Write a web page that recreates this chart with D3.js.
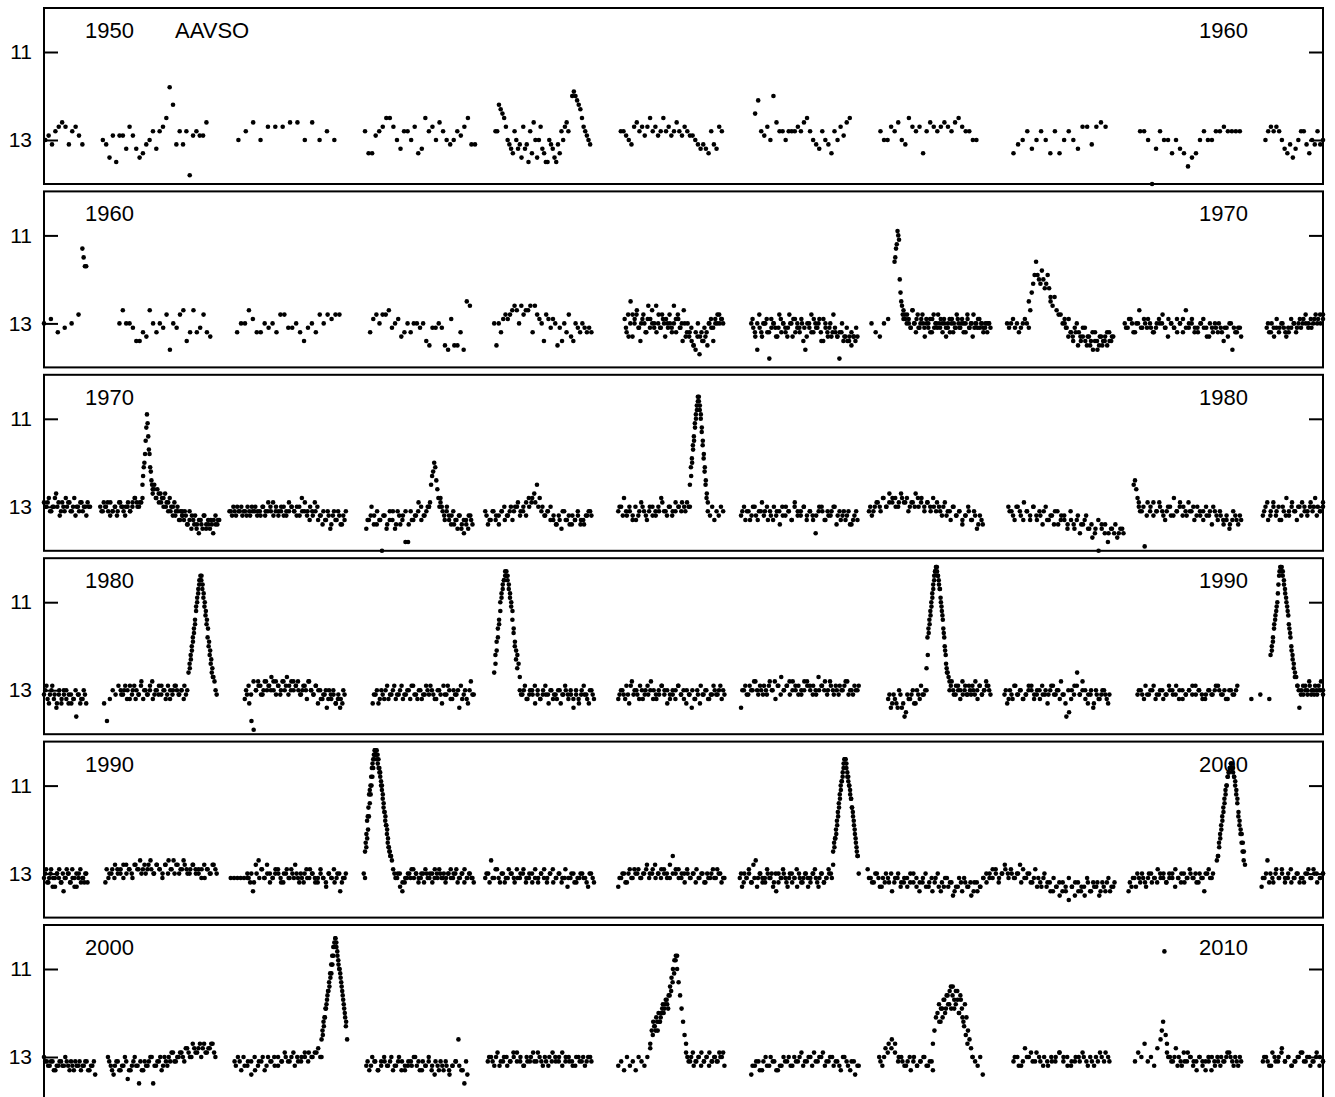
<!DOCTYPE html>
<html>
<head>
<meta charset="utf-8">
<script src="https://cdn.jsdelivr.net/npm/d3@7"></script>
<style>
  body { margin: 0; background: #fff; }
  svg { display: block; font-family: "Liberation Sans", Arial, Helvetica, sans-serif; }
</style>
</head>
<body>
<svg id="chart" width="1335" height="1097"></svg>
<script>
// magnitudes in tenths (130 = 13.0 mag); each run spreads its estimates evenly from `from` to `to` (decimal year)
// dense seasons are read in two passes, so some windows appear twice
const obs1950 = [
  { from: 1950.01, to: 1950.30, mag: [130,129,131,128,127,126,127,131,128,127,129,131] },
  { from: 1950.46, to: 1951.27, mag: [130,131,134,129,135,129,129,132,127,129,132,134,133,131,130,128,132,128,127,125,118,122,131,128,131,128,138,129,128,129,129,126] },
  { from: 1951.52, to: 1952.27, mag: [130,128,126,130,127,127,127,126,126,130,126,130,128,130] },
  { from: 1952.51, to: 1953.37, mag: [128,133,133,129,128,127,125,125,127,130,132,128,128,130,127,133,132,125,128,127,130,126,128,130,131,130,128,129,127,125,131,131] },
  { from: 1953.53, to: 1954.10, mag: [128,128,122,123,124,125,127,130,131,132,133,128,130,132,131,134,127,132,131,135,128,133,126,130,134,130,127,132,133,135,135,130,131,132,134,135,131,133,128,130,127,126,128] },
  { from: 1954.13, to: 1954.27, mag: [120,119,120,121,122,123,125,127,128,129,130,131] },
  { from: 1954.51, to: 1955.30, mag: [128,128,129,130,131,127,126,128,127,129,127,125,128,127,129,128,125,128,127,129,128,126,128,129,127,128,129,129,130,131,132,131,132,133,128,131,132,127,128] },
  { from: 1955.56, to: 1956.30, mag: [124,121,128,129,127,130,120,126,128,128,130,128,128,128,127,128,126,125,128,130,131,132,128,130,131,133,128,130,127,129,126,125] },
  { from: 1956.54, to: 1957.29, mag: [128,130,130,127,128,126,130,131,125,127,128,127,133,128,126,127,128,127,126,127,128,126,125,127,128,128,130,130] },
  { from: 1957.58, to: 1958.30, mag: [133,131,130,128,132,130,128,130,133,128,133,130,128,130,132,127,127,131,127,126,127] },
  { from: 1958.57, to: 1959.35, mag: [128,128,130,140,132,128,130,130,133,130,132,133,136,134,133,130,128,130,130,128,128,127,128,128,128,128] },
  { from: 1959.55, to: 1960.00, mag: [130,128,127,128,127,128,130,132,133,131,134,132,130,128,128,131,133,130,131,128,131,130] }
];

const obs1960 = [
  { from: 1960.00, to: 1960.27, mag: [130,129,132,131,130,128] },
  { from: 1960.30, to: 1960.33, mag: [113,115,117,117] },
  { from: 1960.59, to: 1961.30, mag: [130,127,130,130,131,134,134,132,133,127,130,132,130,131,128,136,130,131,128,127,134,132,127,132,131,128,132,133] },
  { from: 1961.51, to: 1962.31, mag: [132,130,130,127,129,132,132,130,131,130,132,128,128,131,131,130,132,134,131,130,132,128,130,128,129,128,128] },
  { from: 1962.55, to: 1963.33, mag: [132,129,128,130,128,128,127,131,130,129,133,132,130,132,130,130,131,130,134,135,131,131,130,131,135,136,129,135,135,132,136,125,126] },
  { from: 1963.52, to: 1964.28, mag: [130,135,130,132,129,128,129,128,127,126,127,130,126,128,127,127,126,132,126,128,129,130,134,128,129,131,129,130,135,131,134,130,132,128,133,134,130,131,132,130,131,132,131,132] },
  { from: 1964.54, to: 1965.31, mag: [129,132,133,125,128,130,128,131,134,129,130,132,126,129,130,131,126,130,131,128,130,129,131,130,132,126,129,128,131,130,127,133,130,132,134,135,136,133,137,132,134,133,135,130,131,134,129,130,128,129,130] },
  { from: 1964.55, to: 1965.30, mag: [131,128,130,133,129,127,131,130,128,132,129,131,127,130,132,128,131,129,133,130,128,131,130,132,129,131,134,130,132,133,131,135,132,130,133,134,131,132,130,129,131,130,128,130,129] },
  { from: 1965.53, to: 1966.36, mag: [130,131,133,136,128,132,130,130,132,138,129,130,131,133,128,132,130,131,133,128,130,129,132,130,131,129,134,136,130,131,128,132,130,131,129,134,129,130,132,131,133,128,132,133,138,132,134,133,134,133,135,133,134,133] },
  { from: 1965.54, to: 1966.35, mag: [129,132,130,131,133,130,129,132,131,130,133,131,129,130,132,131,130,133,129,131,132,130,131,133,130,132,129,131,130,132,134,131,133,130,132,131,133,132,130,133,131,134,132,133,131] },
  { from: 1966.47, to: 1966.60, mag: [130,132,133,130,129] },
  { from: 1966.65, to: 1966.72, mag: [116,115,113,112,109,110,111,120,123,125,126,128,129] },
  { from: 1966.72, to: 1967.40, mag: [127,129,128,130,131,127,130,132,128,131,129,130,133,130,131,129,132,128,130,131,130,129,132,130,133,131,129,130,132,131,128,130,131,129,130,132,128,131,130,133,131,130,129,131,130,132,131,130,130,131] },
  { from: 1966.73, to: 1967.39, mag: [128,130,129,131,127,130,129,131,130,128,131,129,130,132,129,131,130,128,131,130,129,131,130,132,129,130,131,129,131,130,132,130,129,131,130,128,130,131,129,130,131,130,132,130] },
  { from: 1967.53, to: 1967.70, mag: [130,131,130,129,131,130,132,131,130,129,130,131] },
  { from: 1967.70, to: 1967.87, mag: [125,127,123,121,119,116,119,120,121,118,120,122,121,119,122,124] },
  { from: 1967.87, to: 1967.98, mag: [125,126,124,127,128,128,130,129] },
  { from: 1967.98, to: 1968.36, mag: [130,131,129,132,133,131,130,132,134,133,131,135,133,134,136,132,134,135,133,134,133,135,132,134,133] },
  { from: 1967.99, to: 1968.35, mag: [131,133,132,134,132,135,133,131,134,133,135,132,134,136,133,135,134,132,134,133] },
  { from: 1968.45, to: 1969.36, mag: [130,131,129,132,130,127,131,130,129,131,132,130,130,128,131,129,130,131,132,130,129,127,131,130,132,131,130,129,131,133,131,130,132,131,134,131,130,136,132,131,133] },
  { from: 1968.46, to: 1969.35, mag: [131,129,130,132,130,131,129,131,130,132,131,129,130,131,133,130,131,129,130,132,131,130,129,131,132,130,131,133,130,132,131,130,132,131,133,130,131,132,131] },
  { from: 1969.56, to: 1970.00, mag: [131,132,130,133,131,132,130,131,133,132,131,130,132,130,131,129,130,131,129,130,128,129,130,128] },
  { from: 1969.57, to: 1970.00, mag: [130,132,131,129,131,130,132,131,129,130,131,129,130,128,130,131,129,130,128,129] }
];

const obs1970 = [
  { from: 1970.00, to: 1970.36, mag: [129,130,128,131,130,127,129,131,130,128,129,131,130,132,130,129,131,130,129,130] },
  { from: 1970.01, to: 1970.35, mag: [130,129,131,130,128,130,132,129,131,130,129,131,128,130,131,129,130,132,130] },
  { from: 1970.44, to: 1970.77, mag: [130,131,130,129,132,131,130,131,129,130,132,130,131,129,128,130,129,128] },
  { from: 1970.45, to: 1970.76, mag: [131,129,130,131,129,131,130,132,129,130,131,130,129,131,130,128,129,130,129] },
  { from: 1970.77, to: 1970.85, mag: [125,123,121,120,118,115,112,109,111,114,117,118,121,122,124,125,126] },
  { from: 1970.85, to: 1971.08, mag: [127,125,128,126,129,127,128,130,127,129,131,128,130,132,129,131,130,133,131,132] },
  { from: 1971.08, to: 1971.37, mag: [131,133,132,134,131,135,133,132,134,136,133,135,132,134,133,135,134,133,132,134,133] },
  { from: 1970.86, to: 1971.36, mag: [126,128,127,129,128,130,129,131,130,132,131,133,132,131,134,133,132,134,135,133,134,132,135,134,133,136,134,133] },
  { from: 1971.45, to: 1972.36, mag: [131,132,131,130,131,132,131,130,132,131,130,131,132,130,131,129,131,132,130,131,130,132,131,129,130,131,132,130,128,131,132,133,131,129,130,132,134,133,131,135,132,133,131,134,132,131] },
  { from: 1971.46, to: 1972.35, mag: [131,130,132,131,130,131,132,131,130,131,132,131,130,132,131,130,129,131,132,131,130,132,131,130,131,130,132,131,129,131,130,132,131,133,132,131,133,132,134,131,133,132,134,133] },
  { from: 1972.52, to: 1973.01, mag: [135,133,130,132,134,133,140,132,134,131,133,135,131,134,132,138,138,131,133,132,129,130,132,131,130] },
  { from: 1972.53, to: 1973.00, mag: [133,132,134,131,133,132,135,133,131,134,132,133,131,134,133,132,131,133,132,130] },
  { from: 1973.01, to: 1973.10, mag: [130,129,125,123,122,120,121,124,126,128,130,129] },
  { from: 1973.10, to: 1973.35, mag: [128,131,133,130,132,134,131,133,135,132,134,136,133,135,132,134] },
  { from: 1973.11, to: 1973.34, mag: [130,132,131,133,132,134,133,132,135,133,134,132,133] },
  { from: 1973.45, to: 1974.28, mag: [131,134,133,131,132,134,131,130,132,131,133,130,129,131,130,132,128,129,127,125,128,130,132,131,130,133,134,132,135,131,133,134,132,133,131,134,133,132,131,132] },
  { from: 1973.46, to: 1974.27, mag: [132,133,131,133,132,131,133,132,130,131,130,132,131,129,130,128,129,130,131,132,131,133,132,134,133,131,133,132,134,133,132,133,134,132,131] },
  { from: 1974.49, to: 1975.05, mag: [131,130,128,132,131,133,130,132,129,131,133,130,132,131,130,128,131,132,130,131,129,130,131,130,129,130] },
  { from: 1974.50, to: 1975.04, mag: [130,132,131,130,132,133,131,130,132,131,130,132,131,129,131,130,132,131,130,129,131,130] },
  { from: 1975.05, to: 1975.19, mag: [125,121,119,116,114,111,109,107,105,105,107,109,112,115,118,121,124,127,129] },
  { from: 1975.06, to: 1975.18, mag: [123,120,117,115,112,110,108,106,106,108,110,113,116,119,122,125,128] },
  { from: 1975.19, to: 1975.31, mag: [131,132,130,133,131,132,130,131] },
  { from: 1975.45, to: 1976.36, mag: [132,130,131,133,130,132,131,129,131,133,132,130,131,134,132,130,131,133,129,131,132,130,133,131,132,136,131,130,133,131,132,130,134,131,132,133,131,134,132,133] },
  { from: 1975.46, to: 1976.35, mag: [131,133,131,132,130,133,131,132,130,131,133,132,131,130,132,131,133,130,132,131,130,132,131,133,132,130,131,133,132,131,130,132,133,131,132,134,133,131] },
  { from: 1976.45, to: 1977.34, mag: [131,132,130,129,131,128,130,127,129,128,130,127,129,128,130,129,127,130,128,131,129,130,128,131,130,132,129,131,133,130,132,131,134,132,130,133,131,135,132,134] },
  { from: 1976.46, to: 1977.33, mag: [130,131,129,130,128,130,129,128,130,129,128,129,131,129,130,128,129,130,129,131,130,129,131,130,132,131,130,132,131,133,132,131,133,132,134,133] },
  { from: 1977.54, to: 1978.44, mag: [130,131,133,130,132,129,131,133,130,132,131,134,130,133,132,131,134,132,133,135,131,134,133,136,134,132,135,137,135,140,134,136,138,135,136,137,135,136] },
  { from: 1977.55, to: 1978.43, mag: [131,132,130,131,133,131,132,130,133,132,131,133,132,134,131,133,132,134,133,135,132,134,133,135,134,136,133,135,134,136,135,134,136,135] },
  { from: 1978.52, to: 1978.56, mag: [125,124,126,128,129] },
  { from: 1978.56, to: 1979.36, mag: [130,131,139,129,130,132,131,129,131,133,130,132,128,131,130,132,131,129,131,133,130,132,131,130,132,134,131,133,132,134,133,135,133,132,134,133] },
  { from: 1978.57, to: 1979.35, mag: [131,130,132,131,129,131,130,132,131,130,132,131,129,130,132,131,130,132,131,133,132,131,130,132,131,133,132,134,131,133,132] },
  { from: 1979.53, to: 1980.00, mag: [132,130,133,131,129,132,130,133,131,128,132,130,131,133,130,129,131,132,130,131,128,130,131,129] },
  { from: 1979.54, to: 1980.00, mag: [131,129,132,130,131,133,130,132,131,129,131,130,132,130,131,129,130,132,131,130] }
];

const obs1980 = [
  { from: 1980.00, to: 1980.33, mag: [131,129,133,130,132,134,131,133,130,132,131,133,132,136,131,132,130,133] },
  { from: 1980.01, to: 1980.32, mag: [130,132,131,129,131,133,130,132,131,130,133,131,132,130,131,133,132,131] },
  { from: 1980.47, to: 1981.12, mag: [133,137,132,130,131,129,131,130,132,129,130,132,131,128,130,131,129,132,130,131,129,130,131,132,130,129,131,130,129,130] },
  { from: 1980.60, to: 1981.11, mag: [130,131,129,130,132,131,129,130,131,129,132,130,131,130,128,131,130,129,131,130,132,129,130,131,129,130,131,130,132,131] },
  { from: 1981.13, to: 1981.35, mag: [126,124,122,120,118,116,114,111,109,107,105,104,104,106,108,110,112,114,116,119,121,123,125,127,128,130,131] },
  { from: 1981.14, to: 1981.32, mag: [125,123,121,119,117,115,112,110,108,106,105,105,107,109,111,113,115,118,120,122,124,126,127] },
  { from: 1981.57, to: 1982.35, mag: [132,131,133,137,139,130,128,129,131,128,130,129,127,130,128,129,131,128,130,127,129,128,130,129,128,131,130,129,132,128,130,131,129,133,130,132,131,134,130,132,131,133,132,134,133,131] },
  { from: 1981.58, to: 1982.34, mag: [130,129,131,128,130,129,131,130,128,129,130,128,131,129,130,128,129,131,130,128,129,130,131,129,130,128,130,131,129,130,132,131,130,132,131,130,133,131,132,130] },
  { from: 1982.57, to: 1983.36, mag: [133,131,133,130,132,129,131,130,132,131,129,131,130,132,129,131,130,132,131,130,129,131,132,130,133,131,129,132,130,131,134,132,130,133,128,131] },
  { from: 1982.58, to: 1983.35, mag: [131,130,132,131,130,132,131,129,131,130,132,131,130,129,131,132,130,131,129,131,130,132,130,131,129,131,130,132,131,130,129,131,132,130,131] },
  { from: 1983.52, to: 1983.72, mag: [126,122,119,116,114,110,108,106,105,103,103,104,106,108,110,112,116,119,121,122,124,127] },
  { from: 1983.53, to: 1983.70, mag: [124,121,118,115,112,109,107,105,104,104,105,107,109,111,114,117,120,123,125] },
  { from: 1983.72, to: 1984.30, mag: [130,131,129,132,130,131,133,130,132,131,129,131,130,132,131,130,133,131,130,132,131,134,130,132,131,129,131,133,130,132] },
  { from: 1983.73, to: 1984.29, mag: [131,130,132,131,130,129,131,132,130,131,133,130,131,132,130,131,129,131,130,132,131,133,130,131,132,130,131] },
  { from: 1984.49, to: 1985.32, mag: [132,130,131,129,133,128,130,131,129,132,130,131,128,130,132,131,129,130,133,131,130,132,129,131,130,133,131,134,132,130,133,131,130,132,131,129,131,130,132,131] },
  { from: 1984.50, to: 1985.31, mag: [131,130,132,131,129,131,130,132,130,131,129,130,132,131,130,129,131,130,132,131,130,129,131,132,130,131,130,132,131,129,131,130,132,131,130,131,129,130] },
  { from: 1985.45, to: 1986.37, mag: [134,130,131,129,130,128,131,130,129,131,128,130,132,129,127,130,129,131,128,130,129,131,130,128,129,131,130,127,129,130,131,128,130,129,131,130,129,128,130,131,130,129] },
  { from: 1985.46, to: 1986.36, mag: [130,129,131,130,128,130,129,131,130,129,130,128,129,131,130,129,128,130,129,131,130,128,129,130,129,131,130,129,128,130,129,131,130,129,130,128,131,130,129,130] },
  { from: 1986.60, to: 1986.90, mag: [132,134,131,133,130,134,136,131,132,130,133,131,129,131,130] },
  { from: 1986.61, to: 1986.89, mag: [131,133,132,134,131,133,135,132,131,133,130,132,131,130] },
  { from: 1986.90, to: 1987.08, mag: [125,118,116,114,112,110,108,106,104,103,102,103,104,106,107,110,112,114,117,120,122,125,126,127,128] },
  { from: 1986.91, to: 1987.06, mag: [122,117,115,113,111,109,107,105,103,102,102,104,105,107,109,111,113,116,118,121,124,126] },
  { from: 1987.08, to: 1987.40, mag: [130,128,131,129,130,132,128,130,131,129,131,130,128,132,129,131,130,128,129,131] },
  { from: 1987.09, to: 1987.39, mag: [129,130,131,129,130,131,129,131,130,129,131,130,129,131,130,129,130] },
  { from: 1987.51, to: 1988.33, mag: [131,133,130,132,129,131,130,132,131,129,130,132,131,130,129,131,133,130,129,131,130,128,131,136,135,130,129,126,131,128,130,133,131,134,130,132,131,130,132,131] },
  { from: 1987.52, to: 1988.32, mag: [130,132,131,129,131,130,132,131,130,129,131,130,132,131,130,131,129,131,130,132,131,133,130,132,131,129,131,130,132,131,130,133,131,132,130,131,133] },
  { from: 1988.55, to: 1989.33, mag: [131,130,132,131,130,129,131,130,132,131,130,131,129,130,132,131,130,131,129,130,131,132,130,131,130,129,131,130,132,130,131,129] },
  { from: 1988.56, to: 1989.32, mag: [130,131,129,131,130,132,131,130,131,129,130,131,132,130,131,130,129,131,130,132,131,130,131,129,130,131,132,130,131,130] },
  { from: 1989.44, to: 1989.58, mag: [132,131,132] },
  { from: 1989.59, to: 1989.80, mag: [122,120,118,115,113,111,108,104,102,103,104,106,108,110,112,115,117,120,122,124,126,127,129] },
  { from: 1989.60, to: 1989.78, mag: [121,119,116,114,112,110,106,103,102,102,103,105,107,109,111,113,116,118,121,123,125,127] },
  { from: 1989.80, to: 1990.00, mag: [129,134,130,131,129,130,128,131,130,129,131,130,128,130] },
  { from: 1989.81, to: 1990.00, mag: [130,131,129,130,131,129,130,131,130,129,130,131] }
];

const obs1990 = [
  { from: 1990.00, to: 1990.34, mag: [131,129,132,130,133,131,130,129,132,134,131,130,132,129,131,133,130,132,131,130,132] },
  { from: 1990.01, to: 1990.33, mag: [130,132,131,129,131,133,130,131,132,130,131,129,130,132,131,133,130,131,129,131,132,130] },
  { from: 1990.48, to: 1991.35, mag: [132,131,130,131,129,130,128,130,129,131,128,129,130,128,129,127,130,128,129,130,128,127,129,130,128,129,127,129,130,128,129,130,129,131,129,130,128,130] },
  { from: 1990.49, to: 1991.34, mag: [129,130,129,128,130,129,131,128,129,130,128,129,127,129,130,128,129,130,128,129,131,128,130,129,127,128,130,129,128,130,129,128,130,129,131,128,129,130,128,129] },
  { from: 1991.46, to: 1991.59, mag: [131,131,131,131,131,131] },
  { from: 1991.59, to: 1992.36, mag: [130,132,134,128,127,129,131,128,130,131,129,130,132,130,129,131,130,128,131,130,132,129,131,130,131,132,129,131,133,130,131,132,130,134,131,130] },
  { from: 1991.60, to: 1992.35, mag: [131,130,132,130,131,129,131,130,132,131,130,129,131,132,130,131,129,131,130,132,131,130,131,129,130,132,131,130,131,132,130,131,129,131,130,132,131] },
  { from: 1992.50, to: 1992.51, mag: [130,131] },
  { from: 1992.51, to: 1992.59, mag: [125,123,121,118,117,115,112,111,110,108,106,105,104,103,102,102] },
  { from: 1992.59, to: 1992.72, mag: [102,103,104,105,106,107,108,110,111,113,115,116,118,119,121,123,124,125,126,126,127] },
  { from: 1992.52, to: 1992.71, mag: [124,122,120,117,114,112,110,108,106,104,103,102,102,103,104,106,107,109,110,112,114,116,117,119,120,122,124,125,126] },
  { from: 1992.73, to: 1993.36, mag: [129,131,130,133,134,132,131,130,129,131,130,132,131,130,129,131,130,132,131,130,129,131,130,131,130,129,131,130,132,131,130,129,131,130,131,132] },
  { from: 1992.74, to: 1993.35, mag: [130,131,130,132,131,130,131,129,130,131,130,132,130,131,130,129,131,130,131,132,130,131,130,129,131,130,132,131,130,131] },
  { from: 1993.45, to: 1994.30, mag: [131,130,127,131,129,132,130,131,129,130,132,131,130,129,131,130,132,129,131,130,131,132,130,129,131,130,132,131,133,131,130,132,131,130,131,133,130,132] },
  { from: 1993.46, to: 1994.29, mag: [130,132,131,129,131,130,132,131,130,131,129,131,130,132,131,130,131,132,130,129,131,130,132,131,130,131,129,131,130,132,131,130,131,132,130,131] },
  { from: 1994.49, to: 1995.32, mag: [133,131,130,132,129,131,130,129,131,130,128,130,129,131,130,129,130,131,128,126,130,129,131,130,129,131,130,132,131,130,132,130,131,129,131,130,132,131] },
  { from: 1994.50, to: 1995.31, mag: [131,130,132,130,131,129,130,131,130,129,131,130,128,130,131,129,130,131,130,129,131,130,132,130,131,130,129,131,130,132,131,130,131,129,130,131] },
  { from: 1995.44, to: 1996.17, mag: [131,133,130,131,129,132,128,127,131,130,132,131,129,131,130,132,134,130,131,129,131,133,130,132,131,129,130,132,131,130,133,131,130,129,132,131,130,132,131,129,130,128] },
  { from: 1995.45, to: 1996.16, mag: [130,132,131,130,132,131,133,130,131,132,130,131,133,130,132,131,130,132,131,130,131,133,131,132,130,131,132,130,131,133,130,132,131,130,131] },
  { from: 1996.17, to: 1996.37, mag: [125,123,122,120,118,116,114,112,110,109,108,106,104,104,106,108,109,110,112,113,115,117,119,121,123,125,126,130] },
  { from: 1996.18, to: 1996.36, mag: [124,122,121,119,117,115,113,111,109,107,105,104,104,105,107,108,110,111,113,115,116,118,120,122,124,126] },
  { from: 1996.44, to: 1998.37, mag: [129,131,132,130,133,131,130,132,134,131,130,132,131,133,130,132,131,134,132,130,133,131,132,130,134,133,131,132,135,133,131,134,132,133,135,132,134,133,131,132,130,131,129,132,130,128,130,129,131,130,128,129,131,130,132,129,131,133,130,132,134,131,133,135,132,134,136,133,135,132,134,133,131,134,132,133,135,132,134,131,133,132] },
  { from: 1996.45, to: 1998.36, mag: [131,132,130,131,133,132,131,130,132,131,133,132,131,132,130,133,132,131,133,132,134,131,133,132,131,133,132,134,133,132,131,133,132,134,132,133,131,130,131,129,130,131,130,129,131,130,131,130,132,131,130,132,131,133,132,131,133,132,134,133,132,134,133,131,133,132,134,133,135,132,134,133,132,134,133,132,134,133] },
  { from: 1998.48, to: 1999.14, mag: [134,133,131,130,132,131,133,130,132,131,129,131,130,132,131,130,133,131,132,130,131,129,131,130,132,131,134,130,131,130] },
  { from: 1998.49, to: 1999.13, mag: [132,131,133,131,130,132,131,130,131,132,130,131,132,130,131,129,131,130,132,131,130,131,132,130,131,130,129,131] },
  { from: 1999.17, to: 1999.39, mag: [127,126,123,121,119,117,115,113,111,110,108,107,106,105,106,107,108,109,111,113,116,118,120,121,123,125,128] },
  { from: 1999.18, to: 1999.38, mag: [126,124,122,120,118,116,114,112,110,108,107,106,105,105,106,108,110,112,114,117,119,121,123,125,127] },
  { from: 1999.52, to: 2000.00, mag: [133,131,127,130,132,129,131,130,132,131,129,131,130,132,131,130,129,131,130,132,131,130] },
  { from: 1999.53, to: 2000.00, mag: [131,130,132,131,130,131,129,131,130,132,131,130,131,132,130,131,129,130,131,130] }
];

const obs2000 = [
  { from: 2000.00, to: 2000.40, mag: [130,131,132,131,133,132,131,132,131,133,132,131,132,133,132,131,133,132,134] },
  { from: 2000.01, to: 2000.39, mag: [131,132,131,133,132,131,132,130,132,131,133,132,131,132,131,133,132,131] },
  { from: 2000.50, to: 2001.34, mag: [130,132,134,131,133,132,130,135,133,131,132,136,133,131,132,130,136,132,131,133,130,132,131,129,131,130,129,131,128,130,127,129,128,130,127,129,128,127,130] },
  { from: 2000.51, to: 2001.33, mag: [131,133,132,131,133,132,131,133,132,130,132,131,133,132,131,130,132,131,130,132,131,130,129,131,130,129,130,128,129,130,128,129,127,128,129,128,127,129] },
  { from: 2001.49, to: 2002.17, mag: [131,130,133,132,131,134,130,132,131,133,130,131,132,130,131,129,131,130,132,131,130,129,131,130,129,128,130] },
  { from: 2001.50, to: 2002.16, mag: [132,131,130,132,131,133,131,130,132,131,130,132,131,130,131,129,130,131,130,129,130,129,130] },
  { from: 2002.17, to: 2002.37, mag: [126,124,122,121,119,118,116,115,114,112,111,109,107,105,103,104,106,108,110,111,113,115,117,119,121,122,126] },
  { from: 2002.18, to: 2002.36, mag: [125,123,121,119,117,115,113,111,109,107,105,104,103,105,107,109,110,112,114,116,118,120,123] },
  { from: 2002.52, to: 2003.31, mag: [132,133,130,131,133,131,130,132,131,133,132,130,131,133,132,131,130,132,133,131,132,130,133,134,132,131,133,132,134,132,131,126,133,136,134] },
  { from: 2002.53, to: 2003.30, mag: [131,132,131,133,132,131,132,130,132,131,133,132,131,132,130,131,133,132,131,132,131,133,132,131,133,132,131,132,133,131] },
  { from: 2003.47, to: 2004.28, mag: [131,130,132,129,131,130,132,131,130,129,131,132,130,131,129,131,130,132,131,130,129,131,130,132,131,130,131,132,130,131,132,130,131] },
  { from: 2003.48, to: 2004.27, mag: [130,131,130,132,131,130,131,129,131,130,132,131,130,131,129,131,130,132,131,130,131,129,130,131,132,130,131,130,131,130] },
  { from: 2004.49, to: 2004.74, mag: [132,131,133,130,132,131,133,130,131,132,130,128] },
  { from: 2004.74, to: 2004.95, mag: [127,124,122,123,121,124,122,121,119,120,118,117,119,116,115,113,111,108,107] },
  { from: 2004.76, to: 2004.94, mag: [125,123,124,122,120,122,120,118,119,117,118,116,114,112,110,108,107] },
  { from: 2004.95, to: 2005.02, mag: [110,113,116,119,122,125,127] },
  { from: 2005.02, to: 2005.32, mag: [129,131,130,132,131,130,129,131,130,132,131,130,131,129,130,132] },
  { from: 2005.03, to: 2005.31, mag: [130,131,129,131,130,132,131,130,129,131,130,131,130,129] },
  { from: 2005.53, to: 2006.37, mag: [134,132,131,133,130,132,131,133,132,130,131,132,130,131,129,131,130,132,131,130,129,131,130,132,131,133,130,132,131,134,132] },
  { from: 2005.54, to: 2006.36, mag: [132,131,133,131,132,130,131,133,132,131,130,132,131,130,132,131,130,129,131,130,132,131,130,131,132,130,131,133,131,132] },
  { from: 2006.53, to: 2006.95, mag: [130,132,128,127,126,129,131,130,132,131,133,130,132,131,130,132,131,133] },
  { from: 2006.54, to: 2006.94, mag: [131,130,129,128,127,130,131,132,130,131,132,131,130,132,131] },
  { from: 2006.95, to: 2007.26, mag: [127,124,121,120,118,122,119,117,120,116,118,115,119,114,117,118,115,120,116,119,122,118,121,124,126,128,130] },
  { from: 2007.00, to: 2007.22, mag: [122,119,121,117,119,116,118,114,116,119,115,117,120,117,121,123,125,127] },
  { from: 2007.26, to: 2007.34, mag: [130,131,132,130,134] },
  { from: 2007.58, to: 2008.33, mag: [131,130,132,128,130,131,129,131,130,132,131,130,129,131,130,132,131,130,129,131,130,132,131,130,129,131] },
  { from: 2007.59, to: 2008.32, mag: [130,132,131,130,129,131,130,132,131,130,131,129,130,132,131,130,131,130,132,131,130,129,131,130] },
  { from: 2008.53, to: 2008.73, mag: [131,129,130,127,131,130,132,128,126] },
  { from: 2008.74, to: 2008.78, mag: [124,122,106,125,127] },
  { from: 2008.78, to: 2009.36, mag: [129,130,131,128,130,132,131,129,130,131,133,130,132,131,130,133,131,130,132,131,130,129,131,130,132,131] },
  { from: 2008.79, to: 2009.35, mag: [130,131,130,132,131,129,131,130,132,131,130,131,133,131,130,132,131,130,131,129,130,132,131,130] },
  { from: 2009.53, to: 2010.00, mag: [131,130,132,129,131,130,128,131,130,132,131,130,129,131,130,132,131,129,130,131] },
  { from: 2009.54, to: 2010.00, mag: [130,131,132,130,131,129,131,130,132,131,130,129,131,130,131,130,132,131] }
];

const decades = [1950, 1960, 1970, 1980, 1990, 2000];
const panelData = [obs1950, obs1960, obs1970, obs1980, obs1990, obs2000];
const magTicks = [11, 13];
const magRange = [10, 14];
const sourceLabel = "AAVSO";

const left = 44, right = 1323;
const firstTop = 8, panelStep = 183.4, panelH = 176;

const svg = d3.select("#chart");

decades.forEach((start, i) => {
  const top = firstTop + i * panelStep;
  const x = d3.scaleLinear().domain([start, start + 10]).range([left, right]);
  const y = d3.scaleLinear().domain(magRange).range([top, top + panelH]);
  const g = svg.append("g").attr("class", "panel");

  // flatten the runs into points
  const pts = panelData[i].flatMap(run => run.mag.map((m, j) => ({
    t: run.mag.length > 1 ? run.from + (run.to - run.from) * j / (run.mag.length - 1) : run.from,
    m: m / 10
  })));

  g.append("g").selectAll("circle").data(pts).join("circle")
    .attr("cx", d => x(d.t))
    .attr("cy", d => y(d.m))
    .attr("r", 2.3)
    .attr("fill", "#000");

  g.append("rect")
    .attr("x", left).attr("y", top)
    .attr("width", right - left).attr("height", panelH)
    .attr("fill", "none").attr("stroke", "#000").attr("stroke-width", 2);

  const yl = g.append("g").attr("transform", `translate(${left},0)`)
    .call(d3.axisLeft(y).tickValues(magTicks).tickFormat(d3.format("d")).tickSize(-14).tickPadding(12));
  const yr = g.append("g").attr("transform", `translate(${right},0)`)
    .call(d3.axisRight(y).tickValues(magTicks).tickSize(-14).tickFormat(""));
  [yl, yr].forEach(a => {
    a.select(".domain").remove();
    a.selectAll("line").attr("stroke", "#000").attr("stroke-width", 2);
  });
  yl.selectAll("text").attr("font-size", 21).attr("fill", "#000")
    .attr("font-family", "Liberation Sans, Arial, sans-serif");

  g.append("text").attr("x", 85).attr("y", top + 30)
    .attr("font-size", 22).text(start);
  g.append("text").attr("x", 1248).attr("y", top + 30)
    .attr("text-anchor", "end").attr("font-size", 22).text(start + 10);
  if (i === 0) {
    g.append("text").attr("x", 175).attr("y", top + 30)
      .attr("font-size", 22).text(sourceLabel);
  }
});
</script>
</body>
</html>
